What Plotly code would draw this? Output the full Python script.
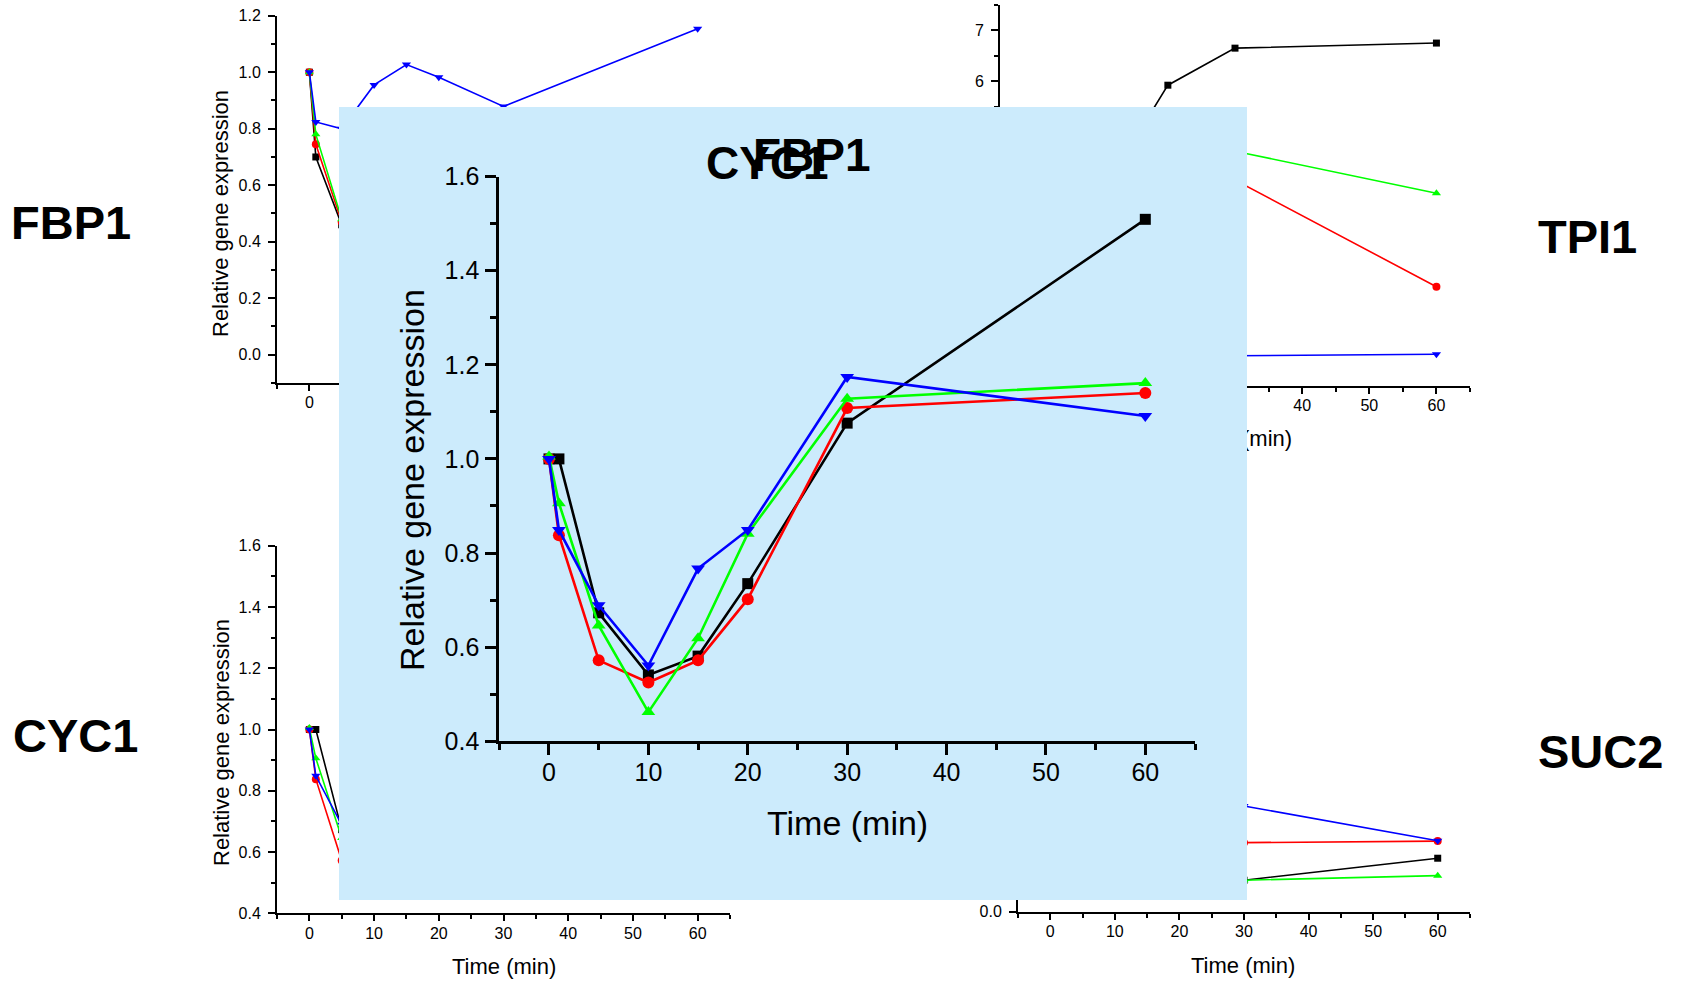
import plotly.graph_objects as go

W, H = 1683, 981

# ---------------- data ----------------
time_min = [0, 1, 5, 10, 15, 20, 30, 60]
x_ticks = [0, 10, 20, 30, 40, 50, 60]

# FBP1 (top left)
fbp1_black = [1.0, 0.70, 0.46, 0.30, 0.35, 0.45, 0.60, 0.75]
fbp1_red = [1.0, 0.745, 0.47, 0.32, 0.38, 0.48, 0.62, 0.70]
fbp1_green = [1.0, 0.78, 0.48, 0.35, 0.40, 0.50, 0.65, 0.78]
fbp1_blue = [1.0, 0.824, 0.80, 0.955, 1.027, 0.982, 0.879, 1.154]

# TPI1 (top right)
tpi1_black = [1.0, 1.3, 2.4, 3.9, 4.84, 5.92, 6.65, 6.75]
tpi1_red = [1.0, 1.2, 2.0, 3.0, 3.5, 3.8, 4.05, 1.95]
tpi1_green = [1.0, 1.2, 2.2, 3.4, 4.0, 4.4, 4.62, 3.79]
tpi1_blue = [1.0, 0.9, 0.8, 0.7, 0.65, 0.62, 0.59, 0.62]

# CYC1 (bottom left and enlarged panel)
cyc1_black = [1.0, 1.0, 0.673, 0.541, 0.581, 0.735, 1.076, 1.509]
cyc1_red = [1.0, 0.838, 0.572, 0.525, 0.572, 0.702, 1.108, 1.140]
cyc1_green = [1.005, 0.906, 0.646, 0.462, 0.619, 0.841, 1.128, 1.161]
cyc1_blue = [1.0, 0.849, 0.689, 0.561, 0.767, 0.849, 1.174, 1.091]

# SUC2 (bottom right)
suc2_black = [1.0, 0.9, 0.6, 0.4, 0.3, 0.2, 0.103, 0.175]
suc2_red = [1.0, 0.85, 0.6, 0.45, 0.35, 0.3, 0.226, 0.231]
suc2_green = [1.0, 0.8, 0.5, 0.3, 0.2, 0.15, 0.103, 0.118]
suc2_blue = [1.0, 0.9, 0.7, 0.55, 0.45, 0.4, 0.346, 0.232]

series_names = ["Condition 1", "Condition 2", "Condition 3", "Condition 4"]
colors = ["#000000", "#ff0000", "#00ff00", "#0000ff"]
symbols = ["square", "circle", "triangle-up", "triangle-down"]

FONT = "Arial, Liberation Sans, sans-serif"
PANEL = "rgb(204,235,252)"


def px(v):
    return v / W


def py(v):
    return 1 - v / H


fig = go.Figure()


def add_group(values, xa, ya, lw, ms):
    for name, vals, c, s in zip(series_names, values, colors, symbols):
        size = ms if s != "square" else ms - 1
        fig.add_trace(go.Scatter(
            x=time_min, y=vals, name=name, mode="lines+markers",
            line=dict(color=c, width=lw),
            marker=dict(color=c, symbol=s, size=size, line=dict(width=0)),
            xaxis=xa, yaxis=ya, showlegend=False, cliponaxis=False,
        ))


add_group([fbp1_black, fbp1_red, fbp1_green, fbp1_blue], "x", "y", 1.6, 8)
add_group([tpi1_black, tpi1_red, tpi1_green, tpi1_blue], "x2", "y2", 1.6, 8)
add_group([cyc1_black, cyc1_red, cyc1_green, cyc1_blue], "x3", "y3", 1.6, 8)
add_group([suc2_black, suc2_red, suc2_green, suc2_blue], "x4", "y4", 1.6, 8)

# partially hidden x-axis title of the TPI1 chart (sits under the panel)
fig.add_trace(go.Scatter(
    x=[0.5], y=[0.5], mode="text", text=["Time (min)"],
    textfont=dict(family=FONT, size=22, color="black"),
    xaxis="x5", yaxis="y5", showlegend=False, cliponaxis=False, hoverinfo="skip",
))
# panel subplot (background only)
fig.add_trace(go.Scatter(x=[], y=[], xaxis="x6", yaxis="y6", showlegend=False))

# enlarged CYC1 chart on the panel
add_group([cyc1_black, cyc1_red, cyc1_green, cyc1_blue], "x7", "y7", 2.6, 12)


def xaxis(domain, anchor, size=16, lw=2, tl=6, mtl=4, tw=2, standoff=-2, showlabels=True):
    return dict(
        domain=[px(domain[0]), px(domain[1])], anchor=anchor, range=[-5, 65],
        tickmode="array", tickvals=x_ticks, showticklabels=showlabels,
        showgrid=False, zeroline=False, showline=True, linecolor="black", linewidth=lw,
        ticks="outside", ticklen=tl, tickwidth=tw, tickcolor="black",
        tickfont=dict(family=FONT, size=size, color="black"),
        ticklabelstandoff=standoff, automargin=False,
        minor=dict(tickmode="linear", tick0=-5, dtick=10, ticks="outside", ticklen=mtl,
                   tickwidth=tw, tickcolor="black", showgrid=False),
        fixedrange=True,
    )


def yaxis(domain, anchor, rng, dtick, fmt, size=16, lw=2, tl=7, mtl=4, tw=2, standoff=4):
    return dict(
        domain=[py(domain[1]), py(domain[0])], anchor=anchor, range=rng,
        tick0=0, dtick=dtick, tickformat=fmt,
        showgrid=False, zeroline=False, showline=True, linecolor="black", linewidth=lw,
        ticks="outside", ticklen=tl, tickwidth=tw, tickcolor="black",
        tickfont=dict(family=FONT, size=size, color="black"),
        ticklabelstandoff=standoff, automargin=False,
        minor=dict(tick0=0, dtick=dtick / 2, ticks="outside", ticklen=mtl,
                   tickwidth=tw, tickcolor="black", showgrid=False),
        fixedrange=True,
    )


hidden = dict(visible=False, range=[0, 1], fixedrange=True, automargin=False)

layout = dict(
    width=W, height=H, autosize=False,
    margin=dict(l=0, r=0, t=0, b=0, pad=0, autoexpand=False),
    paper_bgcolor="white", plot_bgcolor="rgba(0,0,0,0)",
    showlegend=False,
    xaxis=xaxis([277, 730], "y"),
    yaxis=yaxis([15.7, 383], "x", [-0.1, 1.2], 0.2, ".1f"),
    xaxis2=xaxis([1000, 1470], "y2"),
    yaxis2=yaxis([5, 385.7], "x2", [0, 7.5], 1, "d"),
    xaxis3=xaxis([277, 730], "y3"),
    yaxis3=yaxis([545.7, 913.3], "x3", [0.4, 1.6], 0.2, ".1f"),
    xaxis4=xaxis([1018, 1470], "y4"),
    yaxis4=yaxis([545, 911.7], "x4", [0, 1.2], 0.2, ".1f"),
    xaxis5=dict(hidden, domain=[px(1140), px(1340)], anchor="y5"),
    yaxis5=dict(hidden, domain=[py(455), py(425)], anchor="x5"),
    xaxis6=dict(hidden, domain=[px(339), px(1247)], anchor="y6"),
    yaxis6=dict(hidden, domain=[py(900), py(107)], anchor="x6"),
    xaxis7=xaxis([499.3, 1195], "y7", size=25, lw=3, tl=11, mtl=6, tw=2.5, standoff=-4),
    yaxis7=yaxis([176.5, 741.3], "x7", [0.4, 1.6], 0.2, ".1f", size=25, lw=3, tl=11,
                 mtl=6, tw=2.5, standoff=1),
    shapes=[dict(type="rect", xref="x6", yref="y6", x0=0, x1=1, y0=0, y1=1,
                 fillcolor=PANEL, line=dict(width=0), layer="below")],
)
fig.update_layout(**layout)


def ann(text, x, y, size, bold=False, angle=0, xanchor="center"):
    fig.add_annotation(
        text=f"<b>{text}</b>" if bold else text, x=px(x), y=py(y),
        xref="paper", yref="paper", xanchor=xanchor, yanchor="middle",
        showarrow=False, textangle=angle,
        font=dict(family=FONT, size=size, color="black"),
    )


# gene labels
ann("FBP1", 9, 222, 47, bold=True, xanchor="left")
ann("TPI1", 1536, 236, 47, bold=True, xanchor="left")
ann("CYC1", 11, 735, 47, bold=True, xanchor="left")
ann("SUC2", 1536, 751, 47, bold=True, xanchor="left")

# small-chart axis titles
ann("Relative gene expression", 220, 214, 22, angle=-90)
ann("Relative gene expression", 221, 743, 22, angle=-90)
ann("Time (min)", 504, 966, 22)
ann("Time (min)", 1243, 965, 22)

# panel titles and axis titles
ann("CYC1", 767, 163, 46, bold=True)
ann("FBP1", 811.5, 155, 46, bold=True)
ann("Relative gene expression", 412, 480, 34, angle=-90)
ann("Time (min)", 847.5, 823, 34)

fig.write_html("out.html", config={"displayModeBar": False},
               post_script="document.body.style.margin='0';")
